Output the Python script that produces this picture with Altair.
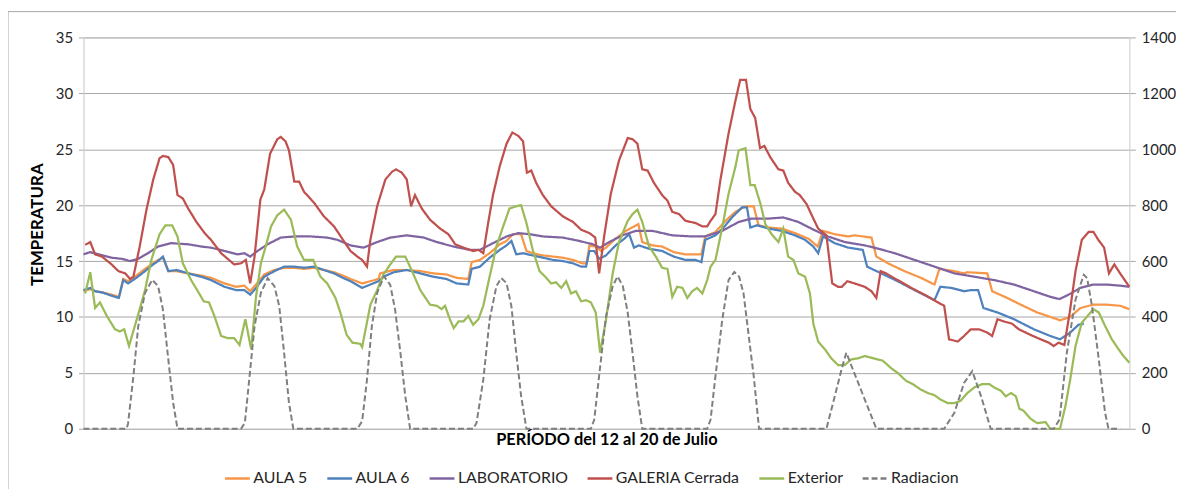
import altair as alt
import pandas as pd

# ---------------- data (hours since start of 12 July record) ----------------
aula5_h = [0,1.4,2.4,3.8,5.8,7.3,8.2,9.2,10.9,12.7,14.4,15.4,16.4,17.5,19.2,21.6,24.3,26.3,29.1,31.5,33.2,34.4,35.6,37.3,39.4,41.4,43.5,45.5,47.6,49.6,51.7,53.5,55.1,57.5,59.2,60.9,61.2,64.0,66.7,69.5,72.2,74.9,77.0,79.4,80.1,81.8,83.8,85.9,87.3,88.6,90.3,91.4,92.7,94.8,96.9,98.9,101.0,102.9,103.8,104.4,105.7,106.8,107.8,109.8,111.9,114.5,115.3,117.4,119.4,121.8,124.2,127.5,128.3,130.4,132.5,134.5,136.6,138.3,139.3,141.4,144.1,146.8,149.6,151.5,152.6,155.0,157.8,159.1,162.6,163.6,166.0,169.4,172.8,175.6,176.6,179.7,181.7,182.4,186.5,187.5,190.6,193.4,196.8,200.2,201.5,203.6,205.7,208.4,211.1,213.9,215.8]
aula5_v = [12.3,12.5,12.3,12.2,12.0,11.8,13.4,13.2,13.7,14.3,14.8,15.1,15.3,14.1,14.1,13.9,13.7,13.5,13.0,12.7,12.8,12.3,12.9,13.8,14.2,14.4,14.4,14.3,14.4,14.2,14.0,13.7,13.4,13.0,13.2,13.4,13.9,14.2,14.2,14.1,13.9,13.8,13.5,13.4,14.9,15.1,15.7,16.5,16.8,17.4,17.4,15.9,15.7,15.5,15.4,15.3,15.1,14.8,14.8,16.4,16.3,15.9,16.2,17.0,17.7,18.3,16.7,16.4,16.3,15.8,15.6,15.6,17.2,17.6,18.6,19.4,19.9,19.9,18.2,18.0,17.9,17.5,17.0,16.3,17.7,17.4,17.2,17.3,17.1,15.4,14.8,14.1,13.5,12.9,14.3,14.1,13.9,14.0,13.9,12.3,11.7,11.1,10.4,9.9,9.7,10.0,10.8,11.1,11.1,11.0,10.7]

aula6_h = [0,1.4,2.4,3.8,5.8,7.3,8.2,9.2,10.9,12.7,14.4,15.4,16.4,17.5,19.2,21.6,24.3,26.3,29.1,31.5,33.2,34.4,35.6,37.3,39.4,41.4,43.5,45.5,47.6,49.6,51.7,53.5,55.1,57.5,59.2,60.9,61.9,64.0,66.7,69.5,72.2,74.9,77.0,79.4,80.1,81.8,83.8,85.9,87.3,88.3,89.3,90.7,92.7,94.8,96.9,98.9,101.0,102.7,103.7,104.4,105.4,106.4,107.8,109.8,111.6,112.6,113.6,114.6,116.7,119.4,121.8,124.2,126.3,127.5,128.3,130.4,132.1,133.8,135.9,136.9,137.6,139.0,141.4,144.1,146.8,148.9,150.6,151.6,152.6,155.0,157.8,160.8,161.7,164.6,168.0,171.5,175.6,176.8,179.0,181.7,183.1,184.6,185.7,188.6,192.0,196.1,199.5,201.5,203.6,205.3,206.4]
aula6_v = [12.4,12.6,12.3,12.2,11.9,11.7,13.3,13.0,13.5,14.1,14.7,15.0,15.4,14.1,14.2,13.9,13.6,13.3,12.7,12.4,12.4,12.0,12.6,13.6,14.1,14.5,14.5,14.4,14.5,14.2,13.9,13.5,13.2,12.6,12.9,13.2,13.6,14.0,14.2,13.9,13.6,13.4,13.0,12.9,14.3,14.5,15.3,16.0,16.4,16.8,15.6,15.7,15.5,15.3,15.1,15.0,14.8,14.5,14.5,15.9,15.9,15.2,15.5,16.4,17.0,17.4,16.2,16.4,16.1,15.9,15.4,15.1,15.1,14.9,16.9,17.3,18.0,18.9,19.8,19.8,18.0,18.2,17.9,17.7,17.3,16.9,16.3,15.7,17.2,16.6,16.2,16.0,14.5,13.9,13.2,12.4,11.5,12.7,12.6,12.3,12.4,12.4,10.8,10.4,9.8,8.9,8.3,8.0,8.6,9.3,9.4]

lab_h = [0,1.4,3.1,5.8,7.9,9.6,11.3,13.3,15.4,18.1,21.6,24.3,26.3,29.1,31.8,33.2,34.4,35.9,38.0,40.7,43.5,46.9,50.3,52.4,55.1,57.8,60.6,63.3,66.7,70.2,72.9,76.3,79.7,81.8,84.5,87.3,89.7,92.1,94.8,98.9,102.3,105.1,106.6,108.5,111.2,114.0,117.4,121.5,125.6,128.3,131.8,135.2,137.9,141.4,144.4,147.5,150.2,153.6,157.1,161.2,163.2,167.4,171.5,175.6,179.7,183.8,187.9,192.0,196.1,199.5,201.4,203.3,205.7,208.4,211.1,213.9,215.8]
lab_v = [15.6,15.8,15.6,15.3,15.2,15.0,15.2,15.7,16.3,16.6,16.5,16.3,16.2,15.9,15.6,15.7,15.4,15.9,16.5,17.1,17.2,17.2,17.1,16.9,16.4,16.2,16.7,17.1,17.3,17.1,16.7,16.3,16.0,16.0,16.6,17.2,17.5,17.4,17.2,17.1,16.8,16.5,16.2,16.7,17.3,17.7,17.7,17.3,17.2,17.2,17.7,18.5,18.8,18.8,18.9,18.5,17.9,17.2,16.7,16.4,16.2,15.7,15.1,14.5,13.9,13.6,13.3,12.9,12.3,11.8,11.6,12.0,12.6,12.9,12.9,12.8,12.7]

galeria_h = [0.35,1.4,2.4,3.8,5.8,7.2,8.6,9.6,10.3,11.6,13.0,14.4,15.7,16.4,17.5,18.5,19.4,20.5,21.6,23.3,25.0,26.3,28.4,31.1,32.5,33.5,34.4,35.3,36.5,37.3,38.5,40.0,40.7,41.7,42.4,43.5,44.5,45.5,47.6,49.6,51.7,53.7,55.1,56.5,57.5,58.5,59.2,60.6,62.3,63.7,64.5,65.7,66.7,67.6,68.4,69.8,71.5,73.6,75.3,76.7,78.4,80.4,81.5,82.5,83.5,84.5,85.9,87.3,88.5,89.7,90.7,91.5,92.4,93.4,94.8,96.5,98.9,101.0,102.7,104.4,105.6,106.4,107.5,108.8,110.5,112.3,113.3,114.3,115.3,116.4,117.7,119.4,120.5,121.5,122.9,124.2,126.3,127.7,128.7,129.4,130.4,131.4,133.1,134.5,135.5,136.7,137.6,138.6,139.6,140.5,141.7,143.4,144.4,145.4,146.8,147.8,149.2,150.6,151.6,153.3,154.5,155.7,156.5,157.6,159.1,161.2,162.6,163.6,164.5,165.6,168.0,170.8,173.5,175.9,177.6,178.6,180.4,181.7,183.1,184.8,186.5,187.5,188.6,189.9,191.6,193.0,195.4,197.5,199.2,200.2,201.2,202.4,203.5,204.7,206.0,207.4,208.4,209.4,210.6,211.6,212.7,213.9,215.8]
galeria_v = [16.45,16.7,15.6,15.4,14.7,14.1,13.9,13.4,13.6,16.3,19.6,22.3,24.2,24.4,24.3,23.6,20.9,20.6,19.7,18.5,17.5,16.9,15.7,14.7,14.8,15.1,13.0,15.4,20.5,21.4,24.6,25.9,26.1,25.7,24.9,22.1,22.1,21.2,20.2,19.0,18.1,16.8,15.9,15.4,15.1,14.5,16.9,19.9,22.3,23.0,23.2,22.9,22.3,19.9,20.9,19.7,18.7,17.9,17.4,16.5,16.2,15.9,16.0,15.7,18.4,20.9,23.5,25.5,26.5,26.2,25.7,22.9,23.1,22.0,20.9,19.9,19.0,18.5,17.8,17.5,17.1,13.9,17.4,21.0,24.0,26.0,25.9,25.5,23.2,23.1,22.0,20.9,20.4,19.4,19.2,18.6,18.4,18.1,18.1,18.6,19.2,22.2,26.4,29.3,31.2,31.2,28.6,27.8,25.1,25.3,24.3,23.2,23.1,22.0,21.2,20.9,20.1,18.8,17.9,17.3,13.0,12.7,12.7,13.2,13.0,12.7,12.3,11.7,14.1,13.9,13.3,12.6,12.0,11.4,11.0,8.0,7.8,8.3,8.9,8.9,8.6,8.3,9.8,9.6,9.4,8.9,8.4,8.0,7.7,7.4,7.7,7.5,10.4,14.1,16.9,17.6,17.6,16.9,16.2,13.9,14.7,13.9,12.7]

exterior_h = [0.35,1.4,2.4,3.4,4.8,6.5,7.5,8.4,9.4,10.6,11.6,12.7,14.0,15.7,16.9,18.3,19.4,20.5,22.2,23.6,24.8,25.9,27.0,28.4,29.8,31.1,32.2,33.4,34.6,35.6,36.6,37.6,38.7,40.0,41.4,42.8,44.1,45.5,47.4,48.9,50.3,52.0,53.0,54.3,55.5,57.1,57.5,59.2,60.6,61.9,63.3,64.5,66.4,67.8,69.5,71.5,72.9,73.9,74.6,75.6,76.4,77.4,78.4,79.4,80.4,81.5,82.5,83.8,85.2,86.6,87.9,89.3,90.3,91.4,92.7,94.1,95.5,96.5,97.5,98.6,99.6,100.6,101.6,102.7,103.7,104.7,105.7,106.6,107.8,109.2,110.5,112.3,113.3,114.3,115.3,116.7,118.1,119.4,120.5,121.5,122.5,123.6,124.6,125.6,126.6,127.7,128.7,129.4,130.4,131.8,133.1,134.5,135.2,136.6,137.6,138.5,139.7,140.7,142.0,143.4,144.4,145.4,146.5,147.5,148.9,149.9,150.6,151.6,153.0,154.3,155.7,157.1,158.4,159.8,161.2,162.2,163.9,164.9,166.7,168.0,169.7,171.1,172.8,174.2,175.6,176.9,178.3,179.7,181.0,182.4,183.8,185.5,186.9,187.9,189.3,190.3,191.4,192.4,193.1,194.0,195.4,196.8,198.5,199.5,200.2,201.5,202.6,203.6,204.7,206.0,207.4,208.4,209.5,210.8,212.2,213.6,214.6,215.8]
exterior_v = [12.1,14.0,10.8,11.3,10.1,8.9,8.7,8.9,7.4,9.2,10.7,12.4,15.1,17.4,18.2,18.2,17.2,14.8,13.3,12.3,11.4,11.3,10.1,8.3,8.1,8.1,7.5,9.8,7.1,11.8,14.8,16.3,18.1,19.1,19.6,18.7,16.3,15.1,15.1,13.6,13.0,11.7,10.4,8.4,7.7,7.6,7.3,11.1,12.4,13.8,14.7,15.4,15.4,14.1,12.4,11.1,11.0,10.7,11.0,9.8,9.0,9.6,9.6,10.1,9.3,9.8,11.0,13.6,16.3,18.1,19.7,19.9,20.0,18.4,16.0,14.1,13.5,13.0,13.1,12.6,13.2,12.1,12.3,11.4,11.5,11.3,10.4,6.8,9.7,13.9,16.7,18.6,19.2,19.6,18.5,16.3,15.4,14.4,14.3,11.8,12.7,12.6,11.7,12.3,12.6,12.1,13.3,14.5,15.1,18.0,21.0,23.4,24.9,25.1,21.8,21.8,20.1,18.3,17.4,16.7,17.9,15.4,15.1,13.9,13.6,12.1,9.4,7.8,7.1,6.3,5.7,5.7,6.2,6.3,6.5,6.4,6.2,6.1,5.4,5.0,4.3,4.0,3.5,3.2,3.0,2.6,2.3,2.3,2.5,3.2,3.7,4.0,4.0,3.7,3.4,2.9,3.2,2.9,1.8,1.6,0.9,0.5,0.6,0.0,0.0,0.0,2.0,4.4,7.4,9.5,10.2,10.7,10.4,9.2,8.0,7.1,6.5,5.9]

radiacion_h = [0,8.9,9.2,10.3,11.3,12.7,14.2,15.4,16.4,17.5,18.5,19.4,32.5,33.3,34.2,35.3,36.6,38.0,39.4,40.4,41.4,42.4,43.3,56.5,57.5,58.5,59.5,60.6,62.0,63.3,64.3,65.4,66.4,67.4,80.4,81.1,82.5,83.8,85.2,86.2,87.3,88.3,89.3,90.3,91.4,104.7,105.4,106.4,107.8,109.2,110.2,111.3,112.3,113.3,114.3,115.3,128.7,129.4,130.4,131.8,133.1,134.3,135.3,136.2,137.2,138.3,139.4,153.3,155.4,156.4,157.4,160.5,163.6,177.6,179.7,181.7,183.4,185.2,187.2,200.2,201.4,202.9,204.7,206.4,207.1,208.1,209.5,210.8,211.5,213.9]
radiacion_v = [0,0,19,188,367,486,533,510,426,248,93,0,0,21,176,367,486,539,510,438,271,93,0,0,27,176,367,486,545,515,426,271,117,0,0,21,176,390,510,539,521,438,271,117,0,0,33,190,400,510,545,510,415,271,116,0,0,33,188,389,532,561,544,484,342,188,0,0,142,211,272,136,0,0,57,164,206,117,0,0,33,271,462,551,539,438,248,57,0,0]

series = ["AULA 5", "AULA 6", "LABORATORIO", "GALERIA Cerrada", "Exterior", "Radiacion"]
colors = ["#F79646", "#4F81BD", "#8064A2", "#C0504D", "#9BBB59", "#7F7F7F"]
dashes = [[1, 0], [1, 0], [1, 0], [1, 0], [1, 0], [6, 3]]

temp_pairs = [(aula5_h, aula5_v), (aula6_h, aula6_v), (lab_h, lab_v),
              (galeria_h, galeria_v), (exterior_h, exterior_v)]

frames = []
for name, (hh, vv) in zip(series[:5], temp_pairs):
    frames.append(pd.DataFrame({"hora": hh, "valor": vv, "serie": name}))
temp_df = pd.concat(frames, ignore_index=True)
rad_df = pd.DataFrame({"hora": radiacion_h, "valor": radiacion_v, "serie": "Radiacion"})

FONT = "Lato"
x_scale = alt.Scale(domain=[0, 215.8], nice=False, zero=False)
color_scale = alt.Scale(domain=series, range=colors)
dash_scale = alt.Scale(domain=series, range=dashes)

x_enc = alt.X("hora:Q", scale=x_scale,
              axis=alt.Axis(labels=False, ticks=False, grid=False, domain=False,
                            title="PERÍODO del 12 al 20 de Julio", titlePadding=3,
                            titleFont=FONT, titleFontSize=16.5, titleFontWeight="bold",
                            titleColor="#000000"))
y_left = alt.Y("valor:Q", scale=alt.Scale(domain=[0, 35], nice=False),
               axis=alt.Axis(values=[0, 5, 10, 15, 20, 25, 30, 35], grid=True,
                             gridColor="#a6a6a6", gridWidth=1,
                             tickColor="#a6a6a6", tickSize=5, domainColor="#d9d9d9",
                             labelFont=FONT, labelFontSize=15, labelColor="#262626",
                             labelPadding=6,
                             title="TEMPERATURA", titleFont=FONT, titleFontSize=17,
                             titleFontWeight="bold", titleColor="#000000",
                             titlePadding=9, titleY=188))

legend_def = alt.Legend(title=None, orient="none", direction="horizontal",
                        legendX=141, legendY=430,
                        symbolType="stroke", symbolSize=625,
                        symbolStrokeWidth=2.5, labelFont=FONT,
                        labelFontSize=16, labelColor="#262626",
                        labelOffset=2, columnPadding=14)
color_enc = alt.Color("serie:N", scale=color_scale, legend=legend_def)
dash_enc = alt.StrokeDash("serie:N", scale=dash_scale, legend=legend_def)

temp_layers = []
for name in series[:5]:
    temp_layers.append(
        alt.Chart(temp_df).transform_filter(alt.datum.serie == name)
        .mark_line(strokeWidth=2.25)
        .encode(x=x_enc, y=y_left, color=color_enc, strokeDash=dash_enc, order="hora:Q")
    )
temp_chart = alt.layer(*temp_layers)

rad_chart = alt.Chart(rad_df).mark_line(strokeWidth=2).encode(
    x=x_enc,
    y=alt.Y("valor:Q", scale=alt.Scale(domain=[0, 1400], nice=False),
            axis=alt.Axis(orient="right", values=list(range(0, 1401, 200)), grid=False,
                          format="d",
                          tickColor="#a6a6a6", tickSize=6, domainColor="#d9d9d9",
                          labelFont=FONT, labelFontSize=15, labelColor="#262626",
                          labelPadding=6, title=None)),
    color=color_enc, strokeDash=dash_enc, order="hora:Q",
)

frame = alt.Chart(pd.DataFrame({"a": [0]})).mark_rect(
    fill=None, stroke="#a6a6a6", strokeWidth=1
).encode(x=alt.value(-76), x2=alt.value(1120), y=alt.value(-26), y2=alt.value(470))

chart = alt.layer(frame, temp_chart, rad_chart).resolve_scale(
    y="independent"
).properties(
    width=1053, height=394,
    autosize=alt.AutoSizeParams(type="none"),
    padding={"left": 76, "top": 28, "right": 47, "bottom": 59},
).configure_view(stroke=None).configure(background="white")

chart.save("out.html", embed_options={"renderer": "svg", "actions": False})
